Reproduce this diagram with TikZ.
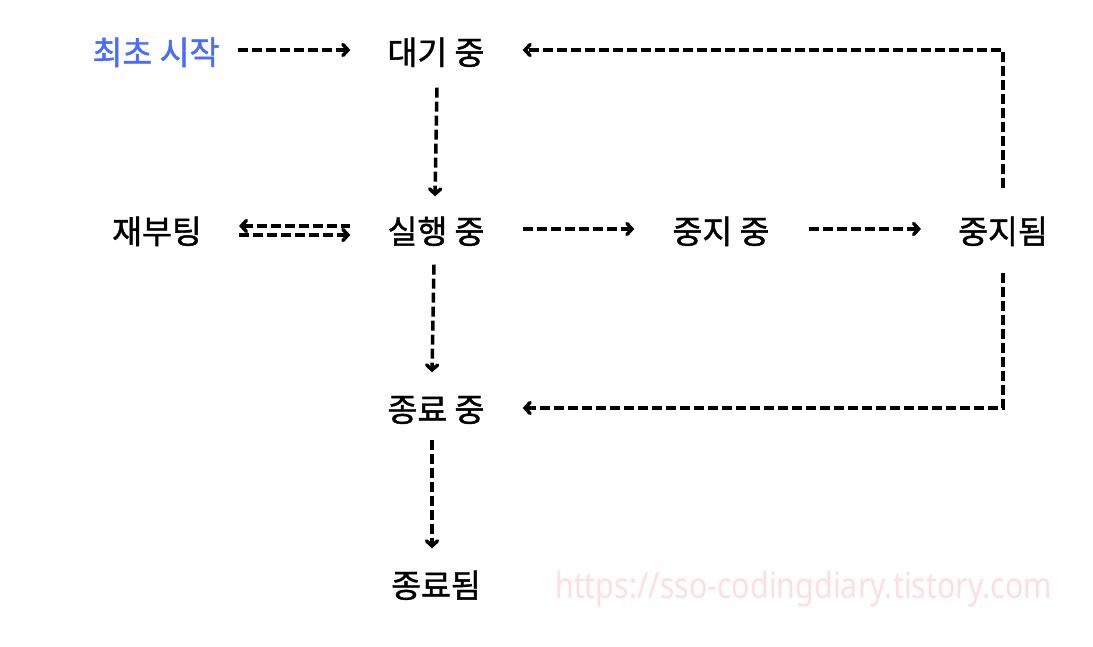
\documentclass[tikz,border=0pt]{standalone}
\usepackage{fontspec}
\newfontfamily\kr[FakeBold=1.3]{Noto Sans CJK KR}
\newfontfamily\wm{Noto Sans}
\usetikzlibrary{arrows.meta}
\definecolor{startblue}{HTML}{4A6CF7}
\definecolor{wmpink}{HTML}{FCDFE5}
\tikzset{
  state/.style={inner sep=0pt, text height=27pt, text depth=2pt, font=\kr\fontsize{32.5pt}{33pt}\selectfont},
  arr/.style={line width=3.5pt, dash pattern=on 10pt off 4pt, -{Straight Barb[length=5pt,width=11pt,line cap=round]}},
  arrl/.style={line width=3.5pt, dash pattern=on 10pt off 4pt, {Straight Barb[length=5pt,width=11pt,line cap=round]}-}
}
\begin{document}
\begin{tikzpicture}[x=1pt,y=-1pt]
\useasboundingbox (0,0) rectangle (1093,647);
\fill[white] (0,0) rectangle (1093,647);
\node[state, text=startblue] (start) at (156,52) {최초 시작};
\node[state] (wait) at (436,52) {대기 중};
\node[state] (reboot) at (157,231) {재부팅};
\node[state] (run) at (436,231) {실행 중};
\node[state] (stopping) at (721,231) {중지 중};
\node[state] (stopped) at (1003,231) {중지됨};
\node[state] (ending) at (436,409) {종료 중};
\node[state] (ended) at (436,585) {종료됨};
\node[inner sep=0pt, text=wmpink, anchor=base west] (wmark) at (555,598) {\resizebox{497pt}{27.5pt}{\wm https://sso-codingdiary.tistory.com}};

\draw[arr] ([xshift=18pt,yshift=2pt]start.east) -- ([xshift=-37pt,yshift=2pt]wait.west);
\draw[arr] ([xshift=1pt,yshift=-21pt]wait.south) -- ([xshift=-1pt,yshift=20pt]run.north);
\draw[arrl] ([xshift=37pt,yshift=5pt]reboot.east) -- ([xshift=-37pt,yshift=5pt]run.west);
\draw[arr] ([xshift=37pt,yshift=-4pt]reboot.east) -- ([xshift=-37pt,yshift=-4pt]run.west);
\draw[arr] ([xshift=38pt,yshift=2pt]run.east) -- ([xshift=-38pt,yshift=2pt]stopping.west);
\draw[arr] ([xshift=39pt,yshift=2pt]stopping.east) -- ([xshift=-37pt,yshift=2pt]stopped.west);
\draw[arr] ([xshift=-2pt,yshift=-19pt]run.south) -- ([xshift=-4pt,yshift=22pt]ending.north);
\draw[arr] ([xshift=-4pt,yshift=-16pt]ending.south) -- ([xshift=-4pt,yshift=22pt]ended.north);
\draw[arr] ([yshift=28pt]stopped.north) |- ([xshift=38pt,yshift=2pt]wait.east);
\draw[arr] ([yshift=-27pt]stopped.south) |- ([xshift=38pt,yshift=1pt]ending.east);
\end{tikzpicture}
\end{document}
